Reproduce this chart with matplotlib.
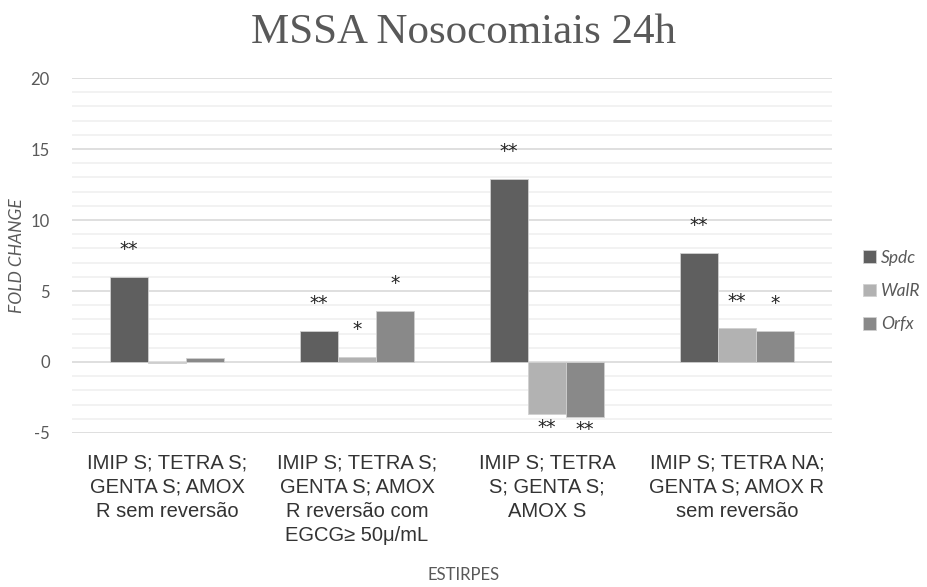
import matplotlib.pyplot as plt
import numpy as np
from matplotlib.ticker import MultipleLocator

plt.rcParams["axes.unicode_minus"] = False

categories = [
    "IMIP S; TETRA S;\nGENTA S; AMOX\nR sem reversão",
    "IMIP S; TETRA S;\nGENTA S; AMOX\nR reversão com\nEGCG≥ 50μ/mL",
    "IMIP S; TETRA\nS; GENTA S;\nAMOX S",
    "IMIP S; TETRA NA;\nGENTA S; AMOX R\nsem reversão",
]
series_names = ["Spdc", "WalR", "Orfx"]
spdc = [6.0, 2.2, 12.9, 7.7]
walr = [-0.1, 0.37, -3.68, 2.37]
orfx = [0.26, 3.6, -3.85, 2.2]
# significance marks per series, per category
spdc_sig = ["**", "**", "**", "**"]
walr_sig = ["", "*", "**", "**"]
orfx_sig = ["", "*", "**", "*"]

colors = ["#5f5f5f", "#b2b2b2", "#898989"]
text_gray = "#595959"

fig = plt.figure(figsize=(9.27, 5.87), dpi=100)
ax = fig.add_axes([0.0777, 0.2624, 0.8198, 0.6046])

x = np.arange(len(categories))
width = 0.2
values = [spdc, walr, orfx]
sigs = [spdc_sig, walr_sig, orfx_sig]

for i, (vals, sig) in enumerate(zip(values, sigs)):
    offs = (i - 1) * width
    ax.bar(x + offs, vals, width, color=colors[i], label=series_names[i],
           edgecolor="#d0d0d0", linewidth=0.6, zorder=3)
    for xi, v, s in zip(x, vals, sig):
        if not s:
            continue
        if v >= 0:
            ax.text(xi + offs, v + 1.9, s, ha="center", va="center",
                    fontsize=13.5, color="#222222", zorder=4)
        else:
            ax.text(xi + offs, v - 0.9, s, ha="center", va="center",
                    fontsize=13.5, color="#222222", zorder=4)

ax.set_xlim(-0.5, len(categories) - 0.5)
ax.set_ylim(-5, 20)
ax.yaxis.set_major_locator(MultipleLocator(5))
ax.yaxis.set_minor_locator(MultipleLocator(1))
ax.grid(axis="y", which="major", color="#d9d9d9", linewidth=1.2, zorder=0)
ax.grid(axis="y", which="minor", color="#f0f0f0", linewidth=1.2, zorder=0)
ax.spines[["right", "top", "bottom", "left"]].set_visible(False)
ax.tick_params(axis="y", which="both", length=0, pad=16, labelsize=12,
               labelcolor=text_gray)
ax.tick_params(axis="x", length=0, pad=15)
for lab in ax.get_yticklabels():
    lab.set_fontfamily("Lato")

ax.set_xticks(x)
ax.set_xticklabels(categories, fontsize=14.5, family="Liberation Sans",
                   color="#333333", linespacing=1.33, va="top")

ax.set_ylabel("FOLD CHANGE", fontsize=12.5, style="italic", color=text_gray,
              family="Lato", labelpad=4)
fig.text(0.5, 0.02, "ESTIRPES", ha="center", va="center", fontsize=12,
         color=text_gray, family="Lato")
fig.text(0.5, 0.945, "MSSA Nosocomiais 24h", ha="center", va="center",
         fontsize=31, color=text_gray, family="Liberation Serif")

leg = ax.legend(loc="center left", bbox_to_anchor=(1.02, 0.4), frameon=False,
                handlelength=0.75, handleheight=0.75, handletextpad=0.3,
                labelspacing=1.0, prop={"family": "Lato", "style": "italic",
                                         "size": 12.5})
for t in leg.get_texts():
    t.set_color(text_gray)

fig.savefig("out.png", dpi=100)
